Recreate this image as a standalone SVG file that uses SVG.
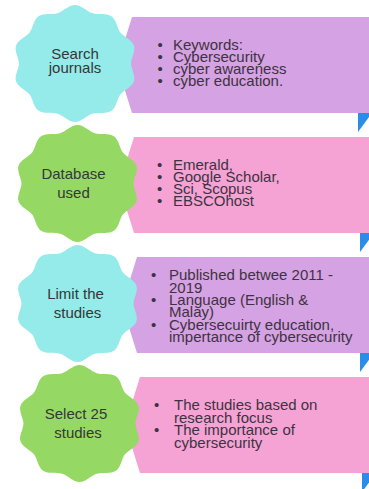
<svg xmlns="http://www.w3.org/2000/svg" xmlns:xlink="http://www.w3.org/1999/xlink" width="369" height="489" viewBox="0 0 369 489">
<style>
.badge-text{font-family:"Liberation Sans",Arial,sans-serif;font-size:15px;fill:#363636;text-anchor:middle}
.list{font-family:"Liberation Sans",Arial,sans-serif;font-size:15px;fill:#3d3340}
.purple{fill:#d5a2e3}
.pink{fill:#f5a3d5}
.cyan{fill:#94ebea}
.green{fill:#95d964}
.fold{fill:#2b8de8}
</style>
<defs>
<path id="wavy" d="M0,-105 C11,-105 19.85,-93.44 29.36,-90.35 C38.87,-87.26 52.82,-91.42 61.72,-84.95 C70.62,-78.48 70.98,-63.93 76.86,-55.84 C82.74,-47.75 96.46,-42.91 99.86,-32.45 C103.26,-21.99 95,-10 95,0 C95,10 103.26,21.99 99.86,32.45 C96.46,42.91 82.74,47.75 76.86,55.84 C70.98,63.93 70.62,78.48 61.72,84.95 C52.82,91.42 38.87,87.26 29.36,90.35 C19.85,93.44 11,105 0,105 C-11,105 -19.85,93.44 -29.36,90.35 C-38.87,87.26 -52.82,91.42 -61.72,84.95 C-70.62,78.48 -70.98,63.93 -76.86,55.84 C-82.74,47.75 -96.46,42.91 -99.86,32.45 C-103.26,21.99 -95,10 -95,0 C-95,-10 -103.26,-21.99 -99.86,-32.45 C-96.46,-42.91 -82.74,-47.75 -76.86,-55.84 C-70.98,-63.93 -70.62,-78.48 -61.72,-84.95 C-52.82,-91.42 -38.87,-87.26 -29.36,-90.35 C-19.85,-93.44 -11,-105 0,-105Z"/>
</defs>

<g id="step1">
  <polygon class="fold" points="358,113 372,113 358,132"/>
  <polygon class="purple" points="132,17 370,17 370,113 132,113 117,65"/>
  <use xlink:href="#wavy" href="#wavy" class="cyan" transform="translate(75,63.5) scale(0.59,0.557)"/>
  <text class="badge-text" x="75" y="59.3">Search</text>
  <text class="badge-text" x="75" y="72.8">journals</text>
  <text class="list" x="157.5" y="49.5">•</text><text class="list" x="173" y="49.5">Keywords:</text>
  <text class="list" x="157.5" y="61.5">•</text><text class="list" x="173" y="61.5">Cybersecurity</text>
  <text class="list" x="157.5" y="73.5">•</text><text class="list" x="173" y="73.5">cyber awareness</text>
  <text class="list" x="157.5" y="85.5">•</text><text class="list" x="173" y="85.5">cyber education.</text>
</g>

<g id="step2">
  <polygon class="fold" points="360,233 374,233 360,252"/>
  <polygon class="pink" points="134,137 370,137 370,233 134,233 119,185"/>
  <use xlink:href="#wavy" href="#wavy" class="green" transform="translate(77.5,183.5) scale(0.59,0.557)"/>
  <text class="badge-text" x="73.5" y="179">Database</text>
  <text class="badge-text" x="73.5" y="198">used</text>
  <text class="list" x="157" y="169.5">•</text><text class="list" x="173" y="169.5">Emerald,</text>
  <text class="list" x="157" y="181.5">•</text><text class="list" x="173" y="181.5">Google Scholar,</text>
  <text class="list" x="157" y="193.5">•</text><text class="list" x="173" y="193.5">Sci, Scopus</text>
  <text class="list" x="157" y="205.5">•</text><text class="list" x="173" y="205.5">EBSCOhost</text>
</g>

<g id="step3">
  <polygon class="fold" points="360,353 374,353 360,372"/>
  <polygon class="purple" points="137,257 370,257 370,353 137,353 122,305"/>
  <use xlink:href="#wavy" href="#wavy" class="cyan" transform="translate(77.5,303.5) scale(0.59,0.557)"/>
  <text class="badge-text" x="75.5" y="299">Limit the</text>
  <text class="badge-text" x="77.5" y="318">studies</text>
  <text class="list" x="151" y="280">•</text><text class="list" x="169" y="280">Published betwee 2011 -</text>
  <text class="list" x="169" y="292.5">2019</text>
  <text class="list" x="151" y="305">•</text><text class="list" x="169" y="305">Language (English &amp;</text>
  <text class="list" x="169" y="317.3">Malay)</text>
  <text class="list" x="151" y="329.7">•</text><text class="list" x="169" y="329.7">Cybersecuirty education,</text>
  <text class="list" x="169" y="342">impertance of cybersecurity</text>
</g>

<g id="step4">
  <polygon class="fold" points="362,473 376,473 362,492"/>
  <polygon class="pink" points="140,377 370,377 370,473 140,473 125,425"/>
  <use xlink:href="#wavy" href="#wavy" class="green" transform="translate(79.5,423.5) scale(0.59,0.557)"/>
  <text class="badge-text" x="76" y="419">Select 25</text>
  <text class="badge-text" x="78" y="438">studies</text>
  <text class="list" x="154" y="410">•</text><text class="list" x="174" y="410">The studies based on</text>
  <text class="list" x="174" y="422.5">research focus</text>
  <text class="list" x="154" y="435">•</text><text class="list" x="174" y="435">The importance of</text>
  <text class="list" x="174" y="447.5">cybersecurity</text>
</g>
</svg>
